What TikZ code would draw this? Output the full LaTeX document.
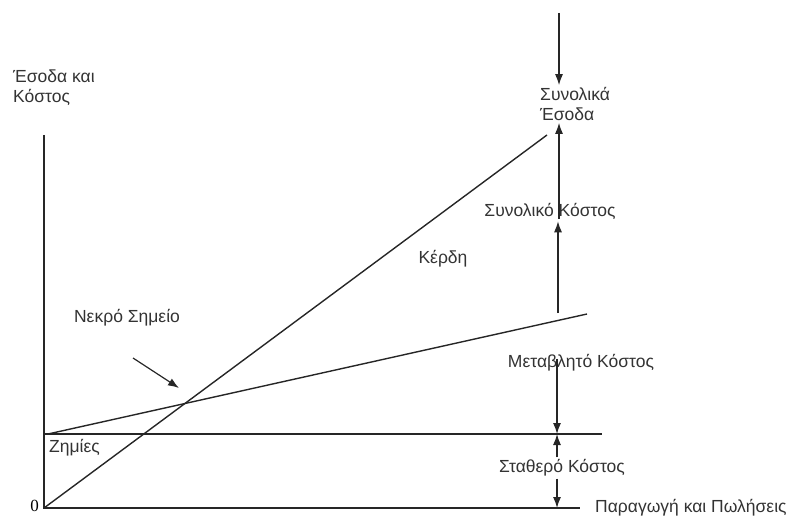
\documentclass[tikz,border=0pt]{standalone}
\usepackage{fontspec}
\setmainfont{Liberation Sans}
\newfontfamily\numfont{Liberation Serif}
\usetikzlibrary{arrows.meta}
\tikzset{
	lbl/.style={font=\fontsize{17.5}{20}\selectfont, text=black!80, inner sep=2pt},
	chartline/.style={line width=1.4pt, black!85},
	dimarrow/.style={line width=1.2pt, black!85, -{Latex[length=11pt,width=8pt]}},
}
\begin{document}
\begin{tikzpicture}[x=1pt, y=-1pt]
		\useasboundingbox (0,0) rectangle (797,521);
		\coordinate (O) at (44,508);
		\coordinate (ytop) at (44,135);
		\coordinate (xend) at (580,508);
		\coordinate (fcL) at (44,434);
		\coordinate (fcR) at (602,434);
		\coordinate (tcL) at (48,434);
		\coordinate (tcR) at (587,314);
		\coordinate (trR) at (547,135);
		\draw[chartline] (ytop) -- (O) -- (xend);
		\draw[chartline] (fcL) -- (fcR);
		\draw[chartline] (tcL) -- (tcR);
		\draw[chartline] (O) -- (trR);
		\node[lbl, anchor=west, align=left] (ylab) at (11,88) {Έσοδα και\\Κόστος};
		\node[lbl, anchor=west] (xlab) at (593,508) {Παραγωγή και Πωλήσεις};
		\node[anchor=east, font=\numfont\fontsize{17}{20}\selectfont, inner sep=1pt] (zero) at (40,506) {0};
		\node[lbl, anchor=west, align=left] (tr) at (538,104) {Συνολικά\\Έσοδα};
		\node[lbl] (tc) at (550,211) {Συνολικό Κόστος};
		\node[lbl] (profit) at (443,259) {Κέρδη};
		\node[lbl] (vc) at (581,363) {Μεταβλητό Κόστος};
		\node[lbl] (fc) at (562,468) {Σταθερό Κόστος};
		\node[lbl, anchor=west] (loss) at (47,448) {Ζημίες};
		\node[lbl] (bep) at (127,318) {Νεκρό Σημείο};
		\coordinate (topin) at (559,13);
		\coordinate (tcup) at (558,313);
		\coordinate (fcA) at (557,434);
		\coordinate (fcB) at (557,508);
		\coordinate (bepA) at (133,358);
		\coordinate (bepB) at (179,388);
		\draw[dimarrow] (topin) -- (topin |- tr.north);
		\draw[dimarrow] ([yshift=-18pt]tc.north -| topin) -- (topin |- tr.south);
		\draw[dimarrow] (tcup) -- (tcup |- tc.south);
		\draw[dimarrow] ([yshift=15pt]vc.south -| fcA) -- (fcA);
		\draw[dimarrow] (fc.north -| fcA) -- (fcA);
		\draw[dimarrow] (fc.south -| fcB) -- (fcB);
		\draw[dimarrow] (bepA) -- (bepB);
	\end{tikzpicture}
\end{document}
